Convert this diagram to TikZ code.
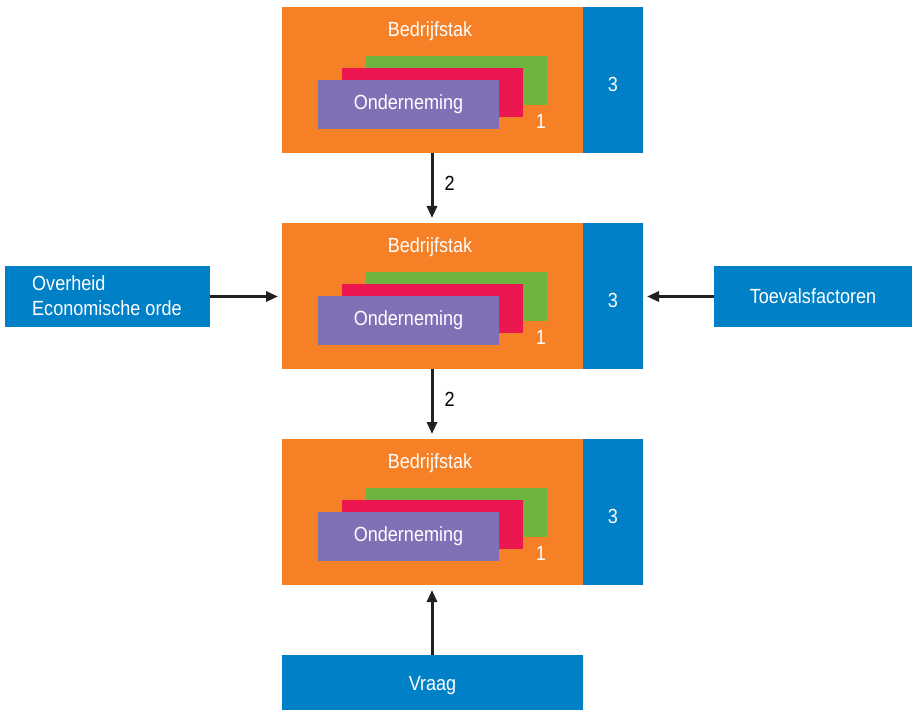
\documentclass[tikz,border=0pt]{standalone}
\usepackage{fontspec}
\setmainfont{Liberation Sans}[FakeStretch=0.88]
\usetikzlibrary{arrows.meta}
\definecolor{cOrange}{HTML}{F58025}
\definecolor{cBlue}{HTML}{0080C6}
\definecolor{cGreen}{HTML}{6DB33F}
\definecolor{cRed}{HTML}{EC1651}
\definecolor{cPurple}{HTML}{8070B5}
\definecolor{cArrow}{HTML}{231F20}
\tikzset{
  box/.style={draw=none, inner sep=0pt, outer sep=0pt},
  lbl/.style={text=white, font=\fontsize{20.5}{25}\selectfont, inner sep=0pt},
  numlbl/.style={text=black, font=\fontsize{20.5}{25}\selectfont, inner sep=0pt},
  conn/.style={line width=3pt, draw=cArrow, -{Triangle[length=12pt,width=10pt]}},
}
\begin{document}
\begin{tikzpicture}[x=1pt,y=-1pt]
\useasboundingbox (0,0) rectangle (912,711);
\foreach \k/\d in {1/0,2/216,3/432}{
  \node[box, fill=cOrange, minimum width=301pt, minimum height=146pt] (or\k) at (432.5,80+\d) {};
  \node[box, fill=cBlue, minimum width=60pt, minimum height=146pt] (bl\k) at (613,80+\d) {};
  \node[box, fill=cGreen, minimum width=181pt, minimum height=49pt] (gr\k) at (456.5,80.5+\d) {};
  \node[box, fill=cRed, minimum width=181pt, minimum height=49pt] (rd\k) at (432.5,92.5+\d) {};
  \node[box, fill=cPurple, minimum width=181pt, minimum height=49pt] (pu\k) at (408.5,104.5+\d) {};
  \node[lbl] (on\k) at (408.5,104.5+\d) {Onderneming};
  \node[lbl] (bt\k) at (430,31+\d) {Bedrijfstak};
  \node[lbl] (one\k) at (541,121+\d) {1};
  \node[lbl] (three\k) at (613,84+\d) {3};
}
\node[box, fill=cBlue, minimum width=205pt, minimum height=61pt] (ov) at (107.5,296.5) {};
\node[lbl, anchor=west, align=left] (ovt) at (32,296) {Overheid\\Economische orde};
\node[box, fill=cBlue, minimum width=198pt, minimum height=61pt] (tf) at (813,296.5) {};
\node[lbl] (tft) at (813,296.5) {Toevalsfactoren};
\node[box, fill=cBlue, minimum width=301pt, minimum height=55pt] (vr) at (432.5,682.5) {};
\node[lbl] (vrt) at (432.5,686) {Vraag};

\draw[conn, shorten >=5pt] (or1.south -| 432,0) -- (or2.north -| 432,0)
  node[pos=0.43, right=11pt, numlbl] (n2a) {2};
\draw[conn, shorten >=5pt] (or2.south -| 432,0) -- (or3.north -| 432,0)
  node[pos=0.43, right=11pt, numlbl] (n2b) {2};
\draw[conn, shorten >=4pt] (ov.east) -- (or2.west |- ov.east);
\draw[conn, shorten >=4pt] (tf.west) -- (bl2.east |- tf.west);
\draw[conn, shorten >=5pt] (vr.north -| 432,0) -- (or3.south -| 432,0);
\end{tikzpicture}
\end{document}
